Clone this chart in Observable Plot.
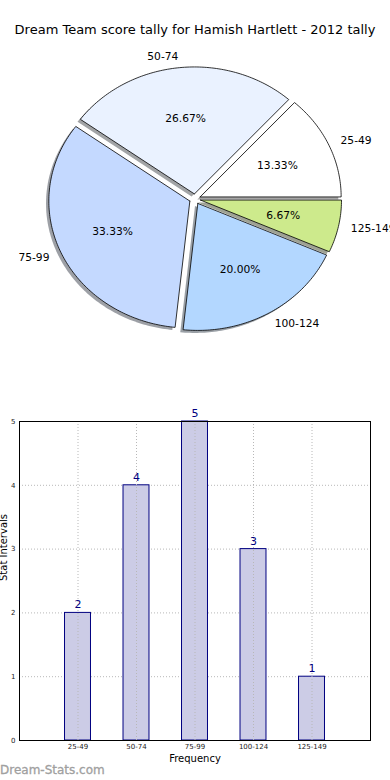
<!DOCTYPE html>
<html><head><meta charset="utf-8">
<script src="https://cdn.jsdelivr.net/npm/d3@7"></script>
<script src="https://cdn.jsdelivr.net/npm/@observablehq/plot@0.6"></script>
<style>
body{margin:0;background:#fff;font-family:"DejaVu Sans",sans-serif;}
#wrap{position:relative;width:390px;height:780px;overflow:hidden;background:#fff}
#title{position:absolute;top:22px;left:0;width:390px;text-align:center;font-size:13px;color:#000;white-space:nowrap}
#pie{position:absolute;top:0;left:0}
#bar{position:absolute;top:390px;left:0}
#wm{position:absolute;left:0;top:763px;font-size:12px;color:#a0a0a0;white-space:nowrap;-webkit-text-stroke:0.3px #a0a0a0}
svg{font-family:"DejaVu Sans",sans-serif;overflow:visible}
</style></head><body>
<div id="wrap"><div id="pie"></div><div id="bar"></div><div id="title"></div><div id="wm"></div></div>
<script>
const titleText = "Dream Team score tally for Hamish Hartlett - 2012 tally";
const watermark = "Dream-Stats.com";
const categories = ["25-49", "50-74", "75-99", "100-124", "125-149"];
const counts = [2, 4, 5, 3, 1];
const sliceColors = ["#ffffff", "#eaf2ff", "#c4d9ff", "#b3d7ff", "#cdea8c"];
const yTicks = [0, 1, 2, 3, 4, 5];
const xLabel = "Frequency";
const yLabel = "Stat Intervals";

document.getElementById("title").textContent = titleText;
document.getElementById("wm").textContent = watermark;

// ---- pie geometry (matplotlib-like, unit radius, exploded, shadowed) ----
const explode = 0.04;
const total = d3.sum(counts);
let acc = 0;
const slices = categories.map((c, i) => {
  const a0 = acc / total * 2 * Math.PI; acc += counts[i];
  const a1 = acc / total * 2 * Math.PI;
  const m = (a0 + a1) / 2;
  return {cat: c, count: counts[i], pct: counts[i] / total * 100, a0, a1, m,
          cx: explode * Math.cos(m), cy: explode * Math.sin(m), color: sliceColors[i]};
});
function wedge(s, ox, oy, color) {
  const n = Math.max(4, Math.ceil((s.a1 - s.a0) / (Math.PI / 180)));
  const pts = [{id: s.cat, x: s.cx + ox, y: s.cy + oy, color}];
  for (let k = 0; k <= n; k++) {
    const a = s.a0 + (s.a1 - s.a0) * k / n;
    pts.push({id: s.cat, x: s.cx + ox + Math.cos(a), y: s.cy + oy + Math.sin(a), color});
  }
  pts.push({id: s.cat, x: s.cx + ox, y: s.cy + oy, color});
  return pts;
}
const shadowPts = slices.flatMap(s => {
  const c = d3.rgb(s.color);
  return wedge(s, -0.02, -0.02, d3.rgb(c.r * 0.3, c.g * 0.3, c.b * 0.3).formatHex());
});
const wedgePts = slices.flatMap(s => wedge(s, 0, 0, s.color));
const LD = 1.09;
const labelPts = slices.map(s => ({text: s.cat, x: s.cx + LD * Math.cos(s.m), y: s.cy + LD * Math.sin(s.m), right: Math.cos(s.m) >= 0}));
const pctPts = slices.map(s => ({text: s.pct.toFixed(2) + "%", x: s.cx + 0.6 * Math.cos(s.m), y: s.cy + 0.6 * Math.sin(s.m)}));

const W = 390, H = 390, PCX = 194.5, PCY = 198.5, RX = 141, RY = 127;
const pie = Plot.plot({
  width: W, height: H, margin: 0,
  x: {domain: [-PCX / RX, (W - PCX) / RX], axis: null},
  y: {domain: [-(H - PCY) / RY, PCY / RY], axis: null},
  marks: [
    Plot.line(shadowPts, {x: "x", y: "y", z: "id", fill: "color", fillOpacity: 0.5, stroke: "none", curve: "linear"}),
    Plot.line(wedgePts, {x: "x", y: "y", z: "id", fill: "color", stroke: "black", strokeWidth: 0.8, curve: "linear"}),
    Plot.text(labelPts.filter(d => d.right), {x: "x", y: "y", text: "text", textAnchor: "start", fontSize: 10.7, fill: "black"}),
    Plot.text(labelPts.filter(d => !d.right), {x: "x", y: "y", text: "text", textAnchor: "end", fontSize: 10.7, fill: "black"}),
    Plot.text(pctPts, {x: "x", y: "y", text: "text", textAnchor: "middle", fontSize: 10.7, fill: "black"})
  ]
});
document.getElementById("pie").appendChild(pie);

// ---- bar chart ----
const table = categories.map((c, i) => ({cat: c, count: counts[i]}));
const bar = Plot.plot({
  width: 390, height: 390,
  marginTop: 31, marginBottom: 40, marginLeft: 19, marginRight: 20,
  x: {domain: categories, paddingInner: 0.556, paddingOuter: 0.778, round: false, axis: null},
  y: {domain: [0, 5], axis: null},
  marks: [
    Plot.gridY(yTicks.slice(1, -1), {stroke: "#b8b8b8", strokeOpacity: 1, strokeWidth: 1, strokeDasharray: "1,2"}),
    Plot.barY(table, {x: "cat", y: "count", fill: "#ccccE6", stroke: "#000080", strokeWidth: 1}),
    Plot.gridX(categories, {stroke: "#b8b8b8", strokeOpacity: 1, strokeWidth: 1, strokeDasharray: "1,2"}),
    Plot.text(table, {x: "cat", y: "count", text: d => String(d.count), dy: -8, fill: "#000080", fontSize: 11}),
    Plot.axisY(yTicks, {tickSize: 0, tickPadding: 4, fontSize: 7, label: null, fill: "#222", tickFormat: d => String(d)}),
    Plot.axisX(categories, {tickSize: 0, tickPadding: 4, fontSize: 7, label: null, fill: "#222"}),
    Plot.frame({stroke: "black", strokeWidth: 1}),
    Plot.text([xLabel], {frameAnchor: "bottom", dy: 21, fontSize: 10, fill: "black"}),
    Plot.text([yLabel], {frameAnchor: "left", dx: -16, rotate: -90, fontSize: 10, fill: "black"})
  ]
});
document.getElementById("bar").appendChild(bar);
</script>
</body></html>
